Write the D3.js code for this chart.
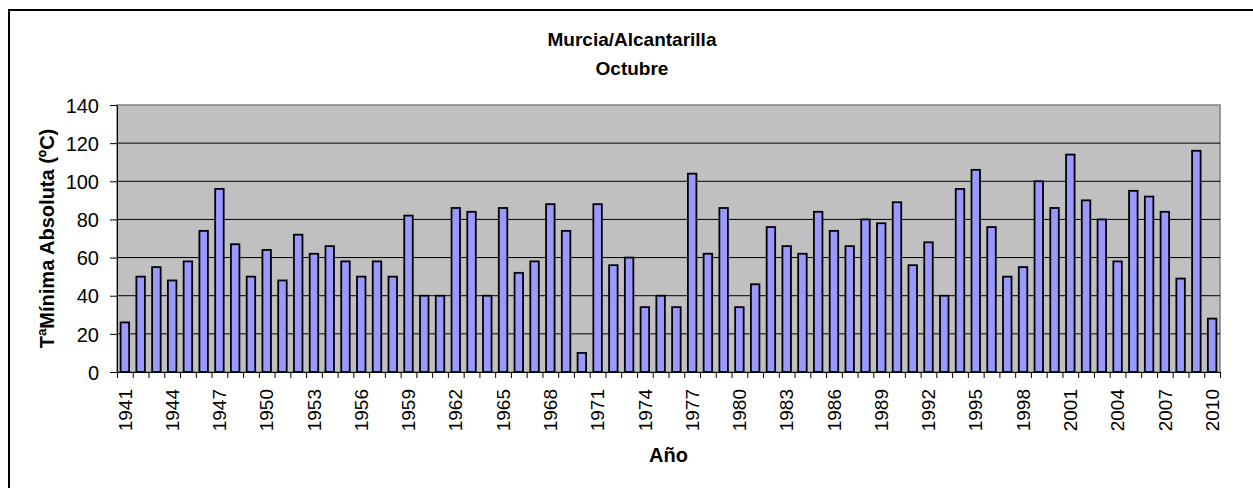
<!DOCTYPE html>
<html>
<head>
<meta charset="utf-8">
<script src="https://cdn.jsdelivr.net/npm/d3@7"></script>
<style>
  body { margin: 0; background: #fff; }
  svg text { font-family: "Liberation Sans", Arial, sans-serif; fill: #000; }
  .axis path, .axis line { stroke: #000; }
</style>
</head>
<body>
<div id="chart"></div>
<script>
// datos
const years = d3.range(1941, 2011);
const values = [
  26, 50, 55, 48, 58, 74, 96, 67, 50, 64,
  48, 72, 62, 66, 58, 50, 58, 50, 82, 40,
  40, 86, 84, 40, 86, 52, 58, 88, 74, 10,
  88, 56, 60, 34, 40, 34, 104, 62, 86, 34,
  46, 76, 66, 62, 84, 74, 66, 80, 78, 89,
  56, 68, 40, 96, 106, 76, 50, 55, 100, 86,
  114, 90, 80, 58, 95, 92, 84, 49, 116, 28
];
const yTicks = [0, 20, 40, 60, 80, 100, 120, 140];
const labelYears = years.filter((y, i) => i % 3 === 0);

const title1 = 'Murcia/Alcantarilla';
const title2 = 'Octubre';
const yTitle = 'TªMínima Absoluta (ºC)';
const xTitle = 'Año';

const data = years.map((y, i) => ({ year: y, value: values[i] }));

class Barchart {
  constructor(_config, _data) {
    this.config = {
      parentElement: _config.parentElement,
      containerWidth: _config.containerWidth || 1253,
      containerHeight: _config.containerHeight || 488,
      margin: _config.margin || { top: 105, right: 33, bottom: 116, left: 117 }
    };
    this.data = _data;
    this.initVis();
  }

  initVis() {
    let vis = this;
    vis.width = vis.config.containerWidth - vis.config.margin.left - vis.config.margin.right;
    vis.height = vis.config.containerHeight - vis.config.margin.top - vis.config.margin.bottom;

    vis.xScale = d3.scaleBand()
      .domain(years)
      .range([0, vis.width])
      .paddingInner(0.46)
      .paddingOuter(0.23);

    // escala continua para las marcas entre categorías
    vis.xTickScale = d3.scaleLinear()
      .domain([0, years.length])
      .range([0, vis.width]);

    vis.yScale = d3.scaleLinear()
      .domain([0, 140])
      .range([vis.height, 0]);

    vis.svg = d3.select(vis.config.parentElement)
      .append('svg')
      .attr('width', vis.config.containerWidth)
      .attr('height', vis.config.containerHeight);

    // marco exterior
    vis.svg.append('rect')
      .attr('x', 9)
      .attr('y', 10)
      .attr('width', vis.config.containerWidth + 20)
      .attr('height', vis.config.containerHeight + 20)
      .attr('fill', 'none')
      .attr('stroke', '#000')
      .attr('stroke-width', 2);

    vis.svg.append('text')
      .attr('x', 632)
      .attr('y', 46)
      .attr('text-anchor', 'middle')
      .attr('font-size', 19)
      .attr('font-weight', 'bold')
      .text(title1);

    vis.svg.append('text')
      .attr('x', 632)
      .attr('y', 75)
      .attr('text-anchor', 'middle')
      .attr('font-size', 19)
      .attr('font-weight', 'bold')
      .text(title2);

    vis.chart = vis.svg.append('g')
      .attr('transform', `translate(${vis.config.margin.left},${vis.config.margin.top})`);

    vis.chart.append('rect')
      .attr('width', vis.width)
      .attr('height', vis.height)
      .attr('fill', '#c0c0c0')
      .attr('stroke', '#808080')
      .attr('stroke-width', 1.5);

    vis.chart.append('g')
      .attr('class', 'grid')
      .selectAll('line')
      .data(yTicks.filter(d => d > 0 && d < 140))
      .join('line')
      .attr('x1', 0)
      .attr('x2', vis.width)
      .attr('y1', d => vis.yScale(d))
      .attr('y2', d => vis.yScale(d))
      .attr('stroke', '#000')
      .attr('stroke-width', 1);

    vis.chart.append('text')
      .attr('transform', `translate(${-63},${vis.height / 2}) rotate(-90)`)
      .attr('text-anchor', 'middle')
      .attr('font-size', 20)
      .attr('font-weight', 'bold')
      .text(yTitle);

    vis.chart.append('text')
      .attr('x', vis.width / 2)
      .attr('y', vis.height + 90)
      .attr('text-anchor', 'middle')
      .attr('font-size', 20)
      .attr('font-weight', 'bold')
      .text(xTitle);

    vis.renderVis();
  }

  renderVis() {
    let vis = this;

    vis.chart.selectAll('.bar')
      .data(vis.data)
      .join('rect')
      .attr('class', 'bar')
      .attr('x', d => vis.xScale(d.year))
      .attr('width', vis.xScale.bandwidth())
      .attr('y', d => vis.yScale(d.value))
      .attr('height', d => vis.height - vis.yScale(d.value))
      .attr('fill', '#9999ff')
      .attr('stroke', '#000')
      .attr('stroke-width', 1.8);

    // eje Y
    vis.chart.append('g')
      .attr('class', 'axis y-axis')
      .call(d3.axisLeft(vis.yScale).tickValues(yTicks).tickSize(7).tickPadding(11).tickSizeOuter(0))
      .call(g => g.selectAll('text').attr('font-size', 20).attr('dy', '0.36em'));

    // marcas del eje X
    vis.chart.append('g')
      .attr('class', 'axis x-ticks')
      .attr('transform', `translate(0,${vis.height})`)
      .call(d3.axisBottom(vis.xTickScale).tickValues(d3.range(0, years.length + 1)).tickSize(6).tickSizeOuter(0).tickFormat(''));

    // etiquetas del eje X
    vis.chart.append('g')
      .attr('class', 'axis x-axis')
      .attr('transform', `translate(0,${vis.height})`)
      .call(d3.axisBottom(vis.xScale).tickValues(labelYears).tickSize(0))
      .call(g => g.select('.domain').remove())
      .selectAll('text')
      .attr('font-size', 19)
      .attr('transform', 'rotate(-90)')
      .attr('text-anchor', 'end')
      .attr('x', -17)
      .attr('y', 0)
      .attr('dy', '0.35em');
  }
}

new Barchart({ parentElement: '#chart' }, data);
</script>
</body>
</html>
